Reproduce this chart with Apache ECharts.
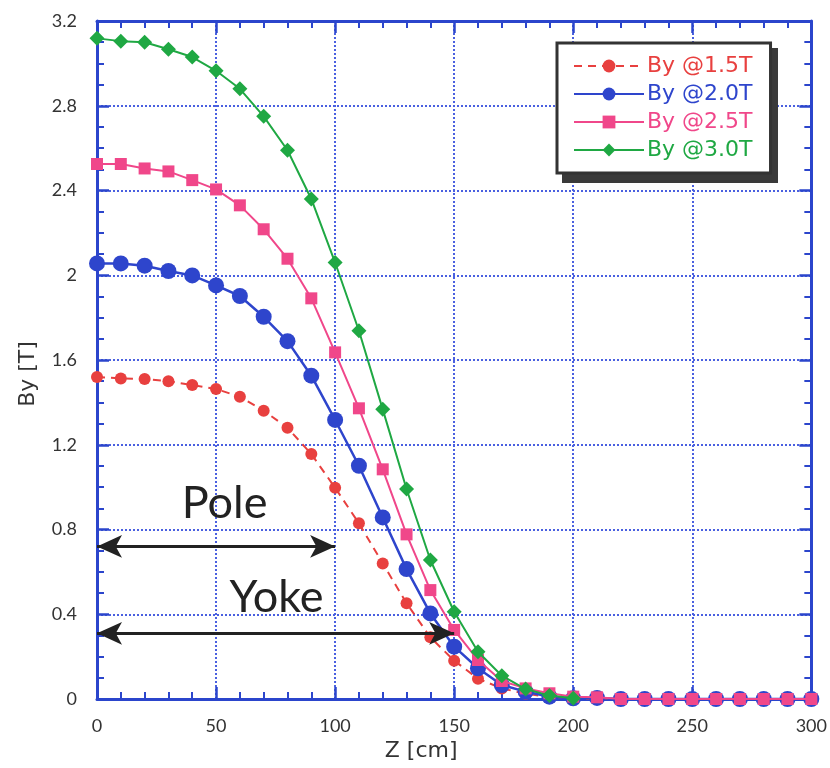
<!DOCTYPE html>
<html>
<head>
<meta charset="utf-8">
<script src="https://cdn.jsdelivr.net/npm/echarts@6/dist/echarts.min.js"></script>
<style>html,body{margin:0;padding:0;background:#fff}#c{width:830px;height:768px}</style>
</head>
<body>
<div id="c"></div>
<script>
const zValues = [0,10,20,30,40,50,60,70,80,90,100,110,120,130,140,150,160,170,180,190,200,210,220,230,240,250,260,270,280,290,300];
const by15 = [1.52,1.513,1.51,1.50,1.482,1.463,1.427,1.361,1.28,1.156,0.997,0.829,0.64,0.452,0.291,0.181,0.096,0.05,0.025,0.01,0.002,0,0,0,0,0,0,0,0,0,0];
const by20 = [2.056,2.056,2.045,2.02,1.999,1.952,1.902,1.804,1.689,1.526,1.317,1.101,0.857,0.613,0.404,0.247,0.145,0.066,0.035,0.011,0.003,0.005,0,0,0,0,0,0,0,0,0];
const by25 = [2.525,2.525,2.504,2.49,2.449,2.405,2.33,2.217,2.078,1.891,1.636,1.372,1.084,0.777,0.514,0.326,0.184,0.085,0.05,0.027,0.011,0.008,0,0,0,0,0,0,0,0,0];
const by30 = [3.118,3.105,3.10,3.067,3.03,2.965,2.88,2.75,2.59,2.36,2.06,1.738,1.367,0.991,0.656,0.412,0.223,0.11,0.047,0.016,0.003];
const seriesNames = ['By @1.5T','By @2.0T','By @2.5T','By @3.0T'];
const xTicks = {min:0, max:300, interval:50};
const yTicks = {min:0, max:3.2, interval:0.4};
const poleArrow = [[0,0.72],[100,0.72]];
const yokeArrow = [[0,0.31],[150,0.31]];
const labelsText = [{text:'Pole', at:[53.6,0.925]},{text:'Yoke', at:[75.4,0.48]}];

const colors = ['#e8403f','#2e45cc','#f0478a','#1fa843'];
const axisBlue = '#2b45cc';
const gridBlue = '#4a60e0';

function pairs(vals){ return vals.map((v,i)=>[zValues[i], v]); }

const chart = echarts.init(document.getElementById('c'));
const tickFont = {fontFamily:'Lato', fontSize:18, color:'#333'};
function axisParts(split){
  return {
    axisLine:{show:true, onZero:false, lineStyle:{color:axisBlue, width:3}},
    axisTick:{show:true, inside:false, length:-12, lineStyle:{color:axisBlue, width:2.5}},
    minorTick:{show:true, splitNumber:split, length:-7, lineStyle:{color:axisBlue, width:2}}
  };
}
const option = {
  animation:false,
  grid:{left:97, right:17, top:21, bottom:69, containLabel:false},
  graphic:[{type:'rect', z:1, left:562, top:48, shape:{width:216, height:135}, style:{fill:'#3a3a3a'}}],
  legend:{
    orient:'vertical', left:557, top:43, z:5,
    padding:[12,18,12,16],
    itemWidth:70, itemHeight:16, itemGap:6,
    backgroundColor:'#fff', borderColor:'#333', borderWidth:3,
    textStyle:{fontFamily:'DejaVu Sans', fontSize:22, lineHeight:22, padding:[0,0,0,-2]},
    data: seriesNames.map((n,i)=>({name:n, textStyle:{color:colors[i]}}))
  },
  xAxis:[
    Object.assign(axisParts(5), {
      type:'value', position:'bottom', min:xTicks.min, max:xTicks.max, interval:xTicks.interval,
      axisLabel:Object.assign({margin:18}, tickFont),
      splitLine:{show:true, lineStyle:{color:gridBlue, type:[2,2], width:2}},
      name:'Z [cm]', nameLocation:'middle', nameGap:38,
      nameTextStyle:{fontFamily:'DejaVu Sans', fontSize:22, color:'#333', padding:[0,66,0,0]}
    }),
    Object.assign(axisParts(5), {
      type:'value', position:'top', min:xTicks.min, max:xTicks.max, interval:xTicks.interval,
      axisLabel:{show:false}, splitLine:{show:false}
    })
  ],
  yAxis:[
    Object.assign(axisParts(4), {
      type:'value', position:'left', min:yTicks.min, max:yTicks.max, interval:yTicks.interval,
      axisLabel:Object.assign({margin:20}, tickFont),
      splitLine:{show:true, lineStyle:{color:gridBlue, type:[2,2], width:2}},
      name:'By [T]', nameLocation:'middle', nameGap:58, nameRotate:90,
      nameTextStyle:{fontFamily:'DejaVu Sans', fontSize:22, color:'#333', padding:[0,28,0,0]}
    }),
    Object.assign(axisParts(4), {
      type:'value', position:'right', min:yTicks.min, max:yTicks.max, interval:yTicks.interval,
      axisLabel:{show:false}, splitLine:{show:false}
    })
  ],
  series:[
    {name:seriesNames[0], type:'line', data:pairs(by15), symbol:'circle', symbolSize:12,
     lineStyle:{color:colors[0], width:2, type:[8,6]}, itemStyle:{color:colors[0]}, z:2},
    {name:seriesNames[1], type:'line', data:pairs(by20), symbol:'circle', symbolSize:16,
     lineStyle:{color:colors[1], width:2.5}, itemStyle:{color:colors[1]}, z:3},
    {name:seriesNames[2], type:'line', data:pairs(by25), symbol:'rect', symbolSize:12,
     lineStyle:{color:colors[2], width:2}, itemStyle:{color:colors[2]}, z:4},
    {name:seriesNames[3], type:'line', data:pairs(by30), symbol:'diamond', symbolSize:15,
     lineStyle:{color:colors[3], width:2}, itemStyle:{color:colors[3]}, z:5},
    {name:'annot', type:'line', data:[], silent:true, z:6,
     markLine:{
       silent:true, symbol:['arrow','arrow'], symbolSize:[17,25],
       label:{show:false}, emphasis:{disabled:true},
       lineStyle:{color:'#222', width:3, type:'solid'},
       data:[
         [{coord:poleArrow[0]},{coord:poleArrow[1]}],
         [{coord:yokeArrow[0]},{coord:yokeArrow[1]}]
       ]
     },
     markPoint:{
       silent:true, symbol:'circle', symbolSize:1, itemStyle:{color:'rgba(0,0,0,0)'},
       label:{show:true, position:'inside', fontFamily:'Lato', fontSize:45, color:'#222',
              formatter:p=>p.name},
       data: labelsText.map(l=>({name:l.text, coord:l.at}))
     }
    }
  ]
};
chart.setOption(option);
</script>
</body>
</html>
